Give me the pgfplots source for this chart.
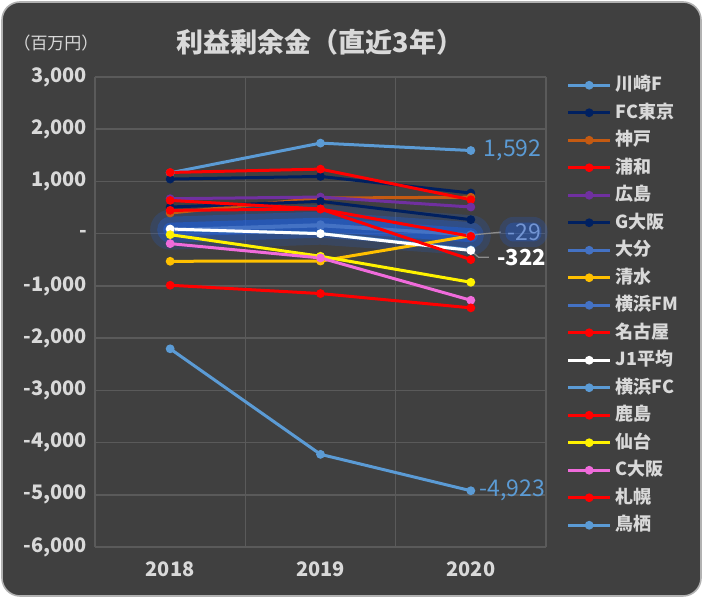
\documentclass[border=0pt]{standalone}
\usepackage{pgfplots}
\pgfplotsset{compat=1.18}
\usepackage{fontspec}
\setmainfont{Noto Sans CJK JP}
\definecolor{bg}{HTML}{404040}
\definecolor{gridc}{HTML}{5A5A5A}
\definecolor{txt}{HTML}{D9D9D9}
\definecolor{kaw}{HTML}{5B9BD5}
\definecolor{navy}{HTML}{002060}
\definecolor{kobe}{HTML}{C55A11}
\definecolor{purp}{HTML}{7030A0}
\definecolor{mblue}{HTML}{4472C4}
\definecolor{glow}{HTML}{1E62E8}
\definecolor{gold}{HTML}{FFC000}
\definecolor{pinkc}{HTML}{F06BDB}
\definecolor{leader}{HTML}{8C8C8C}
\pgfplotsset{ser/.style={color=#1, line width=1.5pt, mark=*, mark size=1.4pt, mark options={solid,fill=#1,draw=#1}}}
\begin{document}
\begin{tikzpicture}
\fill[white] (0,0) rectangle (351.5pt,299pt);
\draw[fill=bg, draw=gray!60, line width=0.8pt, rounded corners=9pt] (1pt,1pt) rectangle (350.5pt,298pt);
\node[text=txt, font=\bfseries\fontsize{13.5}{15}\selectfont] at (160pt,278pt) {利益剰余金（直近3年）};
\node[text=txt, font=\fontsize{8.5}{10}\selectfont] at (28pt,277.5pt) {（百万円）};
\begin{axis}[
  at={(47.5pt,25.5pt)}, anchor=south west,
  scale only axis, width=225.5pt, height=235pt,
  xmin=-0.5, xmax=2.5, ymin=-6000, ymax=3000,
  axis line style={draw=none},
  xtick={0,1,2}, xticklabels={2018,2019,2020},
  extra x ticks={-0.5,0.5,1.5,2.5}, extra x tick labels={},
  extra x tick style={grid=major, major grid style={gridc, line width=0.8pt}},
  ytick={-6000,-5000,...,3000},
  yticklabels={{-6,000},{-5,000},{-4,000},{-3,000},{-2,000},{-1,000},{-},{1,000},{2,000},{3,000}},
  ymajorgrids, major grid style={gridc, line width=0.8pt},
  tick style={draw=none},
  ticklabel style={text=txt, font=\bfseries\fontsize{10}{11}\selectfont},
  xticklabel style={yshift=-4pt},
  yticklabel style={xshift=-0.5pt},
  clip=false,
  legend style={at={(1.045,1.012)}, anchor=north west, draw=none, fill=none,
    text=txt, font=\bfseries\fontsize{9}{10}\selectfont,
    row sep=4.25pt, inner xsep=0pt,
    nodes={inner ysep=1pt, text height=6.5pt, text depth=1pt}},
  legend cell align=left,
  legend image code/.code={\draw[#1, mark repeat=2, mark phase=2] plot coordinates {(0pt,0pt) (10.5pt,0pt) (21pt,0pt)};},
]
% glow
\addplot[color=glow, line width=20pt, opacity=0.18, line cap=round, forget plot] coordinates {(0,76) (1,172) (2,-29)};
\addplot[color=glow, line width=13pt, opacity=0.3, line cap=round, forget plot] coordinates {(0,76) (1,172) (2,-29)};
\addplot[color=glow, line width=7pt, opacity=0.45, line cap=round, forget plot] coordinates {(0,76) (1,172) (2,-29)};
% hidden series drawn first
\addplot[ser=kaw, forget plot] coordinates {(0,80) (1,5) (2,-310)};
\addplot[ser=kaw] coordinates {(0,1165) (1,1734) (2,1592)};
\addlegendentry{川崎F}
\addplot[ser=navy] coordinates {(0,1045) (1,1096) (2,778)};
\addlegendentry{FC東京}
\addplot[ser=kobe] coordinates {(0,395) (1,682) (2,698)};
\addlegendentry{神戸}
\addplot[ser=red] coordinates {(0,1172) (1,1236) (2,650)};
\addlegendentry{浦和}
\addplot[ser=purp] coordinates {(0,669) (1,701) (2,510)};
\addlegendentry{広島}
\addplot[ser=navy] coordinates {(0,510) (1,618) (2,268)};
\addlegendentry{G大阪}
\addplot[ser=mblue] coordinates {(0,76) (1,172) (2,-29)};
\addlegendentry{大分}
\addplot[ser=gold] coordinates {(0,-529) (1,-525) (2,-40)};
\addlegendentry{清水}
\addplot[ser=mblue] coordinates {(0,60) (1,150) (2,-20)};
\addlegendentry{横浜FM}
\addplot[ser=red] coordinates {(0,637) (1,472) (2,-51)};
\addlegendentry{名古屋}
\addplot[ser=white] coordinates {(0,89) (1,0) (2,-322)};
\addlegendentry{J1平均}
\addlegendimage{ser=kaw}
\addlegendentry{横浜FC}
\addplot[ser=red] coordinates {(0,446) (1,472) (2,-497)};
\addlegendentry{鹿島}
\addplot[ser=yellow] coordinates {(0,-19) (1,-433) (2,-931)};
\addlegendentry{仙台}
\addplot[ser=pinkc] coordinates {(0,-191) (1,-465) (2,-1275)};
\addlegendentry{C大阪}
\addplot[ser=red] coordinates {(0,-988) (1,-1147) (2,-1421)};
\addlegendentry{札幌}
\addplot[ser=kaw] coordinates {(0,-2205) (1,-4226) (2,-4923)};
\addlegendentry{鳥栖}
% data labels
\node[anchor=west, text=kaw, font=\fontsize{11.5}{13}\selectfont] at (axis cs:2.04,1592) {1,592};
\node[anchor=west, text=kaw, font=\fontsize{11.5}{13}\selectfont] at (axis cs:2.01,-4923) {-4,923};
\draw[leader, line width=0.6pt] (axis cs:2.0,-29) -- (axis cs:2.2,30);
\fill[glow, opacity=0.2, rounded corners=7pt] (axis cs:2.19,-260) rectangle (axis cs:2.51,320);
\fill[glow, opacity=0.3, rounded corners=4pt] (axis cs:2.23,-150) rectangle (axis cs:2.47,210);
\node[anchor=west, text=mblue!75!white, font=\fontsize{11.5}{13}\selectfont] at (axis cs:2.2,30) {-29};
\draw[leader, line width=0.6pt] (axis cs:2.0,-322) -- (axis cs:2.05,-450) -- (axis cs:2.12,-450);
\node[anchor=west, text=white, font=\bfseries\fontsize{11}{12}\selectfont] at (axis cs:2.13,-450) {-322};
\end{axis}
\end{tikzpicture}
\end{document}
